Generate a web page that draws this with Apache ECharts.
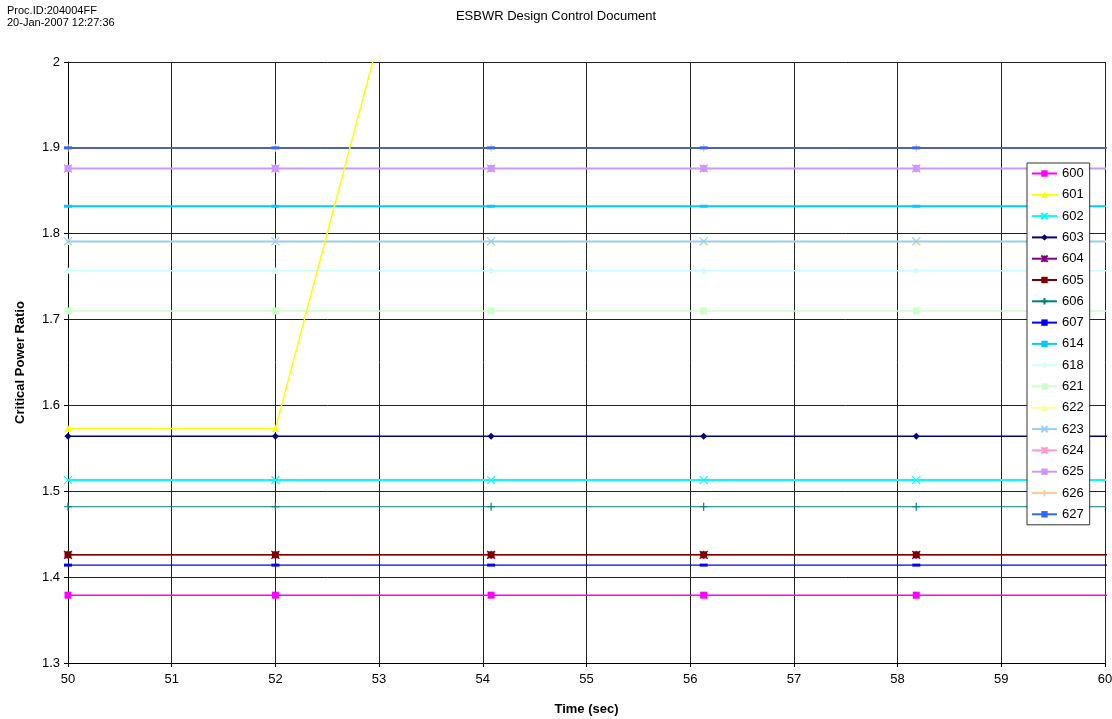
<!DOCTYPE html>
<html><head><meta charset="utf-8">
<script src="https://cdn.jsdelivr.net/npm/echarts@6/dist/echarts.min.js"></script>
<style>html,body{margin:0;padding:0;background:#fff}#c{width:1112px;height:719px}</style>
</head><body><div id="c"></div>
<script>
// Data
const times = [50, 52, 54.08, 56.13, 58.18, 60.23];
const seriesNames = ['600','601','602','603','604','605','606','607','614','618','621','622','623','624','625','626','627'];
const v600 = [1.379, 1.379, 1.379, 1.379, 1.379, 1.379];
const v601 = [1.573, 1.573, 2.52, 2.52, 2.52, 2.52];
const v602 = [1.513, 1.513, 1.513, 1.513, 1.513, 1.513];
const v603 = [1.564, 1.564, 1.564, 1.564, 1.564, 1.564];
const v604 = [1.426, 1.426, 1.426, 1.426, 1.426, 1.426];
const v605 = [1.426, 1.426, 1.426, 1.426, 1.426, 1.426];
const v606 = [1.482, 1.482, 1.482, 1.482, 1.482, 1.482];
const v607 = [1.414, 1.414, 1.414, 1.414, 1.414, 1.414];
const v614 = [1.832, 1.832, 1.832, 1.832, 1.832, 1.832];
const v618 = [1.757, 1.757, 1.757, 1.757, 1.757, 1.757];
const v621 = [1.710, 1.710, 1.710, 1.710, 1.710, 1.710];
const v622 = [1.791, 1.791, 1.791, 1.791, 1.791, 1.791];
const v623 = [1.791, 1.791, 1.791, 1.791, 1.791, 1.791];
const v624 = [1.876, 1.876, 1.876, 1.876, 1.876, 1.876];
const v625 = [1.876, 1.876, 1.876, 1.876, 1.876, 1.876];
const v626 = [1.900, 1.900, 1.900, 1.900, 1.900, 1.900];
const v627 = [1.900, 1.900, 1.900, 1.900, 1.900, 1.900];
const allValues = [v600,v601,v602,v603,v604,v605,v606,v607,v614,v618,v621,v622,v623,v624,v625,v626,v627];
const yTicks = [1.3, 1.4, 1.5, 1.6, 1.7, 1.8, 1.9, 2.0];
const xTicks = [50, 51, 52, 53, 54, 55, 56, 57, 58, 59, 60];

// Styles
const X = 'path://M0,0L10,10M10,0L0,10';
const PLUS = 'path://M5,0L5,10M0,5L10,5';
const STAR = 'path://M0,0L10,10M10,0L0,10M5,0L5,10';
const DASH = 'rect';
const styles = [
  {c:'#FF00FF', s:'rect', z:6, w:1.5},
  {c:'#FFFF00', s:'triangle', z:8, w:1.5},
  {c:'#00FFFF', s:X, z:7, w:2, line:true},
  {c:'#000080', s:'diamond', z:6, w:1.5},
  {c:'#800080', s:STAR, z:5, w:1, line:true},
  {c:'#800000', s:'rect', z:6, w:1.5},
  {c:'#008080', s:PLUS, z:6, w:1, line:true},
  {c:'#0000FF', s:DASH, z:6, w:1.2, dash:true},
  {c:'#00CCFF', s:DASH, z:6, w:2, dash:true},
  {c:'#CCFFFF', s:'diamond', z:6, w:1.5},
  {c:'#CCFFCC', s:'rect', z:6, w:1.5},
  {c:'#FFFF99', s:'triangle', z:5, w:1.5},
  {c:'#99CCFF', s:X, z:6, w:2, line:true},
  {c:'#FF99CC', s:STAR, z:5, w:1, line:true},
  {c:'#CC99FF', s:'rect', z:6, w:2},
  {c:'#FFCC99', s:PLUS, z:5, w:1, line:true},
  {c:'#3366FF', s:DASH, z:7, w:1.5, dash:true}
];

const series = seriesNames.map((n, i) => {
  const st = styles[i];
  return {
    name: n, type: 'line', z: st.z,
    data: times.map((t, k) => [t, allValues[i][k]]),
    symbol: st.s,
    symbolSize: st.dash ? [8, 3] : (st.line ? 8 : 7),
    clip: true,
    lineStyle: {color: st.c, width: st.w},
    itemStyle: {color: st.line ? 'rgba(0,0,0,0)' : st.c, borderColor: st.c, borderWidth: st.line ? 1.2 : 0},
    emphasis: {disabled: true},
    animation: false
  };
});

const chart = echarts.init(document.getElementById('c'), null, {renderer: 'canvas'});
chart.setOption({
  animation: false,
  backgroundColor: '#fff',
  textStyle: {fontFamily: 'Liberation Sans, Arial, sans-serif'},
  graphic: [
    {type: 'text', left: 7, top: 5, style: {text: 'Proc.ID:204004FF\n20-Jan-2007 12:27:36', font: '11px Liberation Sans, Arial', fill: '#000', lineHeight: 12}}
  ],
  title: {
    text: 'ESBWR Design Control Document', left: 'center', top: 5,
    textStyle: {fontSize: 13, fontWeight: 'normal', color: '#000', fontFamily: 'Liberation Sans, Arial'}
  },
  grid: {left: 68, right: 7, top: 62, bottom: 56, containLabel: false, outerBoundsMode: 'none'},
  legend: {
    orient: 'vertical', left: 1027, top: 163, z: 20,
    data: seriesNames,
    backgroundColor: '#fff', borderColor: '#333', borderWidth: 1,
    padding: [4, 6, 4, 4],
    itemWidth: 25, itemHeight: 8, itemGap: 8.3,
    textStyle: {fontSize: 13, color: '#000', fontFamily: 'Liberation Sans, Arial'},
    selectedMode: false
  },
  xAxis: {
    type: 'value', min: 50, max: 60, interval: 1,
    name: 'Time (sec)', nameLocation: 'middle', nameGap: 40,
    nameTextStyle: {fontSize: 13, fontWeight: 'bold', color: '#000'},
    axisLine: {lineStyle: {color: '#000', width: 1}},
    axisTick: {show: true, length: 4, lineStyle: {color: '#000'}},
    axisLabel: {fontSize: 13, color: '#000', margin: 10, formatter: v => xTicks.includes(v) ? String(v) : ''},
    splitLine: {show: true, lineStyle: {color: '#222', width: 1}}
  },
  yAxis: {
    type: 'value', min: 1.3, max: 2.0, interval: 0.1,
    name: 'Critical Power Ratio', nameLocation: 'middle', nameGap: 41,
    nameTextStyle: {fontSize: 13, fontWeight: 'bold', color: '#000'},
    axisLine: {show: true, lineStyle: {color: '#000', width: 1}},
    axisTick: {show: true, length: 4, lineStyle: {color: '#000'}},
    axisLabel: {fontSize: 13, color: '#000', margin: 8, formatter: v => {
      const r = Math.round(v * 10) / 10; return yTicks.includes(r) ? String(r) : '';
    }},
    splitLine: {show: true, lineStyle: {color: '#222', width: 1}}
  },
  series: series
});
</script>
</body></html>
